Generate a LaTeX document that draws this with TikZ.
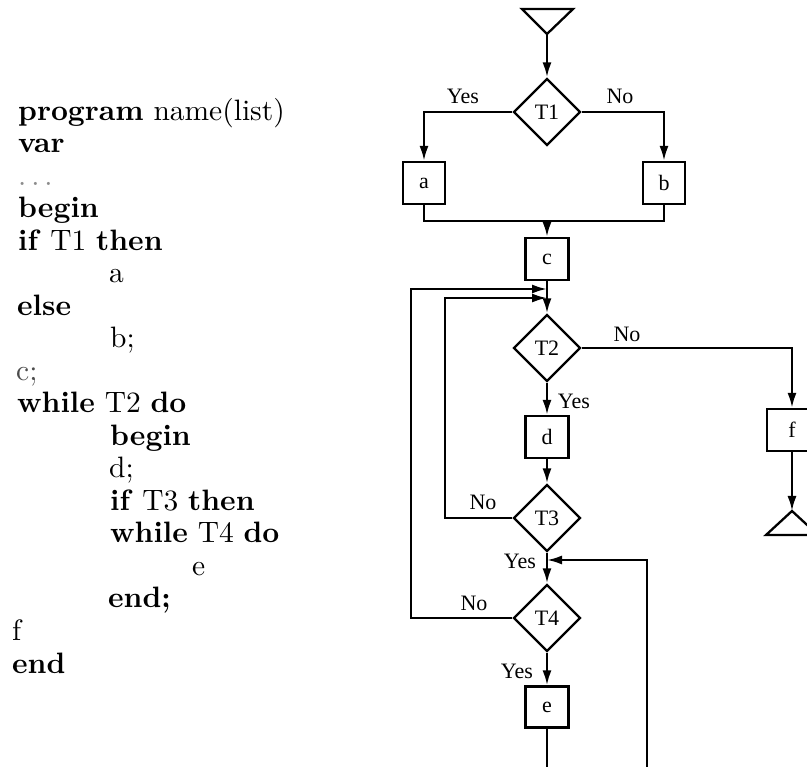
\documentclass[tikz,border=0pt]{standalone}
\usepackage{fontspec}
\usepackage{graphicx}
\usetikzlibrary{shapes.geometric,arrows.meta}
\newfontfamily\fcfont{Liberation Serif}
\newcommand\codeline[1]{\scalebox{2.95}{#1}}
\newcommand\fcsize{\fcfont\fontsize{22}{24}\selectfont}
\tikzset{
  codetext/.style={anchor=base west, inner sep=0pt},
  flowline/.style={line width=2.3pt},
  arr/.style={flowline, -{Latex[length=15pt,width=9pt]}},
  testbox/.style={draw, flowline, diamond, aspect=1, inner sep=0pt,
    minimum width=67pt, minimum height=67pt, font=\fcsize},
  actbox/.style={draw, flowline, rectangle, inner sep=0pt,
    minimum width=43pt, minimum height=42pt, font=\fcsize},
  lbl/.style={inner sep=0pt, font=\fcsize}
}
\begin{document}
\begin{tikzpicture}[x=1pt,y=-1pt]
\useasboundingbox (0,0) rectangle (807,767);
\clip (0,0) rectangle (807,767);
\fill[white] (0,0) rectangle (807,767);

% program text
\node[codetext] (l0) at (18,120.5) {\codeline{\textbf{program} name(list)}};
\node[codetext] (l1) at (18,153) {\codeline{\textbf{var}}};
\node[codetext, text=black!45] (l2) at (18,185.5) {\codeline{$\ldots$}};
\node[codetext] (l3) at (18,218) {\codeline{\textbf{begin}}};
\node[codetext] (l4) at (18,250.5) {\codeline{\textbf{if} T1 \textbf{then}}};
\node[codetext] (l5) at (109,283) {\codeline{a}};
\node[codetext] (l6) at (17,315.5) {\codeline{\textbf{else}}};
\node[codetext] (l7) at (110,348) {\codeline{b;}};
\node[codetext, text=black!70] (l8) at (16,380.5) {\codeline{c;}};
\node[codetext] (l9) at (17,413) {\codeline{\textbf{while} T2 \textbf{do}}};
\node[codetext] (l10) at (110,445.5) {\codeline{\textbf{begin}}};
\node[codetext] (l11) at (109,478) {\codeline{d;}};
\node[codetext] (l12) at (110,510.5) {\codeline{\textbf{if} T3 \textbf{then}}};
\node[codetext] (l13) at (110,543) {\codeline{\textbf{while} T4 \textbf{do}}};
\node[codetext] (l14) at (192,575.5) {\codeline{e}};
\node[codetext] (l15) at (108,608) {\codeline{\textbf{end;}}};
\node[codetext] (l16) at (12,640.5) {\codeline{f}};
\node[codetext] (l17) at (12,673) {\codeline{\textbf{end}}};

% flowchart nodes
\coordinate (sapex) at (547,34);
\draw[flowline, line join=miter] (522,9) -- (573,9) -- (sapex) -- cycle;
\node[testbox] (T1) at (547,112) {T1};
\node[actbox, minimum width=42pt] (a) at (424,183) {a};
\node[actbox, minimum width=42pt] (b) at (664,183) {b};
\coordinate (j) at (547,221);
\node[actbox] (c) at (547,259) {c};
\coordinate (m1) at (547,289);
\coordinate (m2) at (547,298);
\node[testbox] (T2) at (547,348) {T2};
\node[actbox, minimum width=50pt] (f) at (792,430) {f};
\coordinate (eapex) at (792,511);
\draw[flowline, line join=miter] (eapex) -- (766,535) -- (818,535) -- cycle;
\node[actbox] (d) at (547,437) {d};
\node[testbox] (T3) at (547,518) {T3};
\coordinate (m3) at (547,560);
\node[testbox] (T4) at (547,618) {T4};
\node[actbox, minimum height=41pt] (e) at (547,707) {e};
\coordinate (x1) at (411,289);
\coordinate (x2) at (445,298);
\coordinate (lb) at (547,800);
\coordinate (rb) at (647,800);
\coordinate (rt) at (647,560);

% connectors
\draw[arr] (sapex) -- (T1.north);
\draw[arr] (T1.west) -| (a.north);
\draw[arr] (T1.east) -| (b.north);
\draw[flowline] (a.south) |- (j) -| (b.south);
\draw[arr] (j) -- (c.north);
\draw[arr] (c.south) -- (T2.north);
\draw[arr] (T2.east) -| (f.north);
\draw[arr] (f.south) -- (eapex);
\draw[arr] (T2.south) -- (d.north);
\draw[arr] (d.south) -- (T3.north);
\draw[arr] (T3.west) -| (x2) -- (m2);
\draw[arr] (T3.south) -- (T4.north);
\draw[arr] (T4.west) -| (x1) -- (m1);
\draw[arr] (T4.south) -- (e.north);
\draw[arr] (e.south) -- (lb) -- (rb) -- (rt) -- (m3);

% labels
\node[lbl] (y1) at (463,96) {Yes};
\node[lbl] (n1) at (620,96) {No};
\node[lbl] (n2) at (627,334) {No};
\node[lbl] (y2) at (574,401) {Yes};
\node[lbl] (n3) at (483,502) {No};
\node[lbl] (y3) at (520,561) {Yes};
\node[lbl] (n4) at (474,603) {No};
\node[lbl] (y4) at (517,671) {Yes};
\end{tikzpicture}
\end{document}
